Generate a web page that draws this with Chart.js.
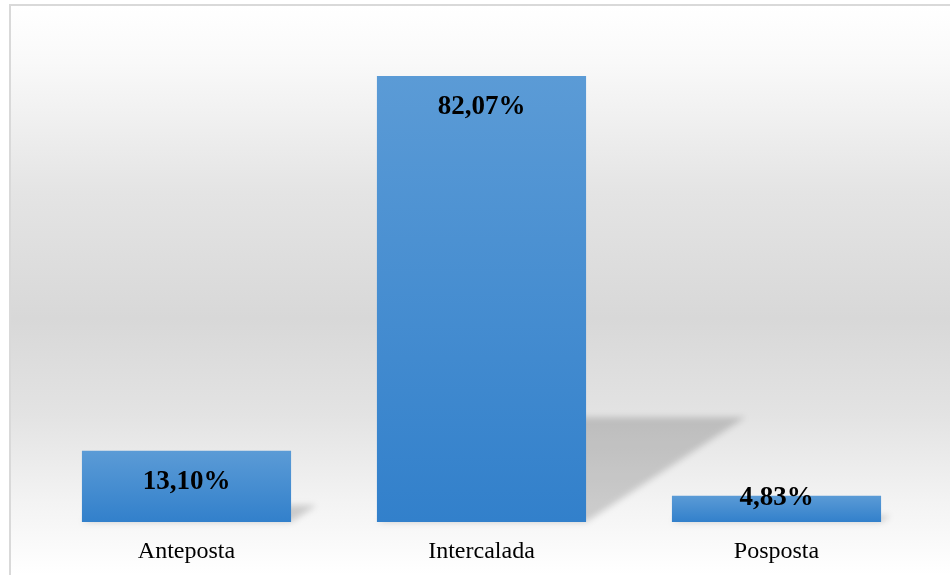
<!DOCTYPE html>
<html>
<head>
<meta charset="utf-8">
<script src="https://cdn.jsdelivr.net/npm/chart.js@4.4.1/dist/chart.umd.min.js"></script>
<style>
  html, body { margin: 0; padding: 0; background: #fff; }
  #wrap { width: 950px; height: 575px; position: relative; }
</style>
</head>
<body>
<div id="wrap"><canvas id="posChart"></canvas></div>
<script>
const categories = ['Anteposta', 'Intercalada', 'Posposta'];
const percentValues = [13.10, 82.07, 4.83];
const yMax = 90;

// frame + grey band background behind the plot
const backdrop = {
  id: 'backdrop',
  beforeDraw(chart) {
    const c = chart.ctx;
    const w = chart.width, h = chart.height;
    const g = c.createLinearGradient(0, 5, 0, h);
    g.addColorStop(0, '#ffffff');
    g.addColorStop(0.1, '#f9f9f9');
    g.addColorStop(0.33, '#e4e4e4');
    g.addColorStop(0.55, '#d8d8d8');
    g.addColorStop(0.72, '#e3e3e3');
    g.addColorStop(0.86, '#f2f2f2');
    g.addColorStop(1, '#ffffff');
    c.save();
    c.fillStyle = g;
    c.fillRect(11, 6, w - 11, h - 6);
    c.fillStyle = '#d9d9d9';
    c.fillRect(9, 4, 2, h - 4);
    c.fillRect(9, 4, w - 9, 2);
    c.restore();
  }
};

// slanted shadow cast by each bar
const barShadow = {
  id: 'barShadow',
  beforeDatasetsDraw(chart) {
    const c = chart.ctx;
    const meta = chart.getDatasetMeta(0);
    c.save();
    c.filter = 'blur(3px)';
    c.fillStyle = 'rgba(0,0,0,0.17)';
    meta.data.forEach(bar => {
      const x0 = bar.x - bar.width / 2, x1 = bar.x + bar.width / 2;
      const hgt = bar.base - bar.y;
      const dx = hgt * 0.357, dy = hgt * 0.235;
      c.beginPath();
      c.moveTo(x0, bar.base);
      c.lineTo(x1, bar.base);
      c.lineTo(x1 + dx, bar.base - dy);
      c.lineTo(x0 + dx, bar.base - dy);
      c.closePath();
      c.fill();
    });
    c.restore();
  }
};

const valueLabels = {
  id: 'valueLabels',
  afterDatasetsDraw(chart) {
    const c = chart.ctx;
    const meta = chart.getDatasetMeta(0);
    c.save();
    c.font = 'bold 27px "Liberation Serif", "Times New Roman", serif';
    c.fillStyle = '#000';
    c.textAlign = 'center';
    c.textBaseline = 'middle';
    meta.data.forEach((bar, i) => {
      const txt = percentValues[i].toFixed(2).replace('.', ',') + '%';
      const y = Math.min(bar.y + 31, bar.base - 24);
      c.fillText(txt, bar.x, y);
    });
    c.restore();
  }
};

const ctx = document.getElementById('posChart').getContext('2d');
new Chart(ctx, {
  type: 'bar',
  data: {
    labels: categories,
    datasets: [{
      data: percentValues,
      borderWidth: 0,
      categoryPercentage: 1,
      barPercentage: 0.709,
      backgroundColor: function(context) {
        const chart = context.chart;
        const ys = chart.scales.y;
        if (!chart.chartArea || !ys) return '#4a8fd0';
        const top = ys.getPixelForValue(context.raw);
        const base = ys.getPixelForValue(0);
        const g = chart.ctx.createLinearGradient(0, top, 0, base);
        g.addColorStop(0, '#5b9bd6');
        g.addColorStop(1, '#3280cb');
        return g;
      }
    }]
  },
  options: {
    responsive: true,
    maintainAspectRatio: false,
    animation: false,
    layout: { padding: { left: 39, right: 26, top: 33, bottom: 0 } },
    plugins: {
      legend: { display: false },
      tooltip: { enabled: false }
    },
    scales: {
      x: {
        grid: { display: false, drawTicks: false },
        border: { display: false },
        ticks: {
          color: '#000',
          padding: 15,
          font: { family: '"Liberation Serif", "Times New Roman", serif', size: 24 }
        },
        afterFit(scale) { scale.height = 53; }
      },
      y: {
        display: false,
        min: 0,
        max: yMax
      }
    }
  },
  plugins: [backdrop, barShadow, valueLabels]
});
</script>
</body>
</html>
